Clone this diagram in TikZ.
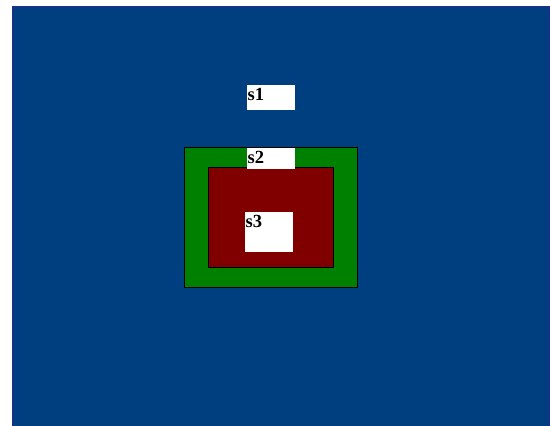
\documentclass[tikz,border=0pt]{standalone}
\usepackage{fontspec}
\setmainfont{Liberation Serif}
\usepackage{xcolor}
\usepackage{tikz}
\usetikzlibrary{positioning}

\definecolor{bgblue}{RGB}{0,63,127}
\definecolor{edgeblue}{RGB}{40,40,140}
\definecolor{outgreen}{RGB}{0,128,0}
\definecolor{inred}{RGB}{128,0,0}

\begin{document}
\begin{tikzpicture}[x=1pt, y=-1pt,
    region/.style={rectangle, draw=black, thick, anchor=north west, inner sep=0pt},
    tagbox/.style={rectangle, fill=white, anchor=north west, inner sep=0pt, minimum width=48pt, minimum height=25pt},
    tag/.style={anchor=base west, inner sep=0pt, font=\fontsize{18.5}{20}\selectfont\bfseries}
]
\useasboundingbox (0,0) rectangle (550,426);

\node (s1area) [region, draw=edgeblue, fill=bgblue, minimum width=537pt, minimum height=422pt] at (12,6) {};
\node (s2area) [region, fill=outgreen, minimum width=173pt, minimum height=140pt] at (184,147) {};
\node (s3area) [region, fill=inred, minimum width=125pt, minimum height=100pt] at (208,167) {};

\node (s1box) [tagbox] at (247,85) {};
\node (s2box) [tagbox, minimum height=21pt] at (247,148) {};
\node (s3box) [tagbox, minimum height=40pt] at (245,212) {};

\node (s1) [tag] at ([xshift=0.5pt, yshift=-15.5pt]s1box.north west) {s1};
\node (s2) [tag] at ([xshift=0.5pt, yshift=-15pt]s2box.north west) {s2};
\node (s3) [tag] at ([xshift=0.5pt, yshift=-15pt]s3box.north west) {s3};

\end{tikzpicture}
\end{document}
